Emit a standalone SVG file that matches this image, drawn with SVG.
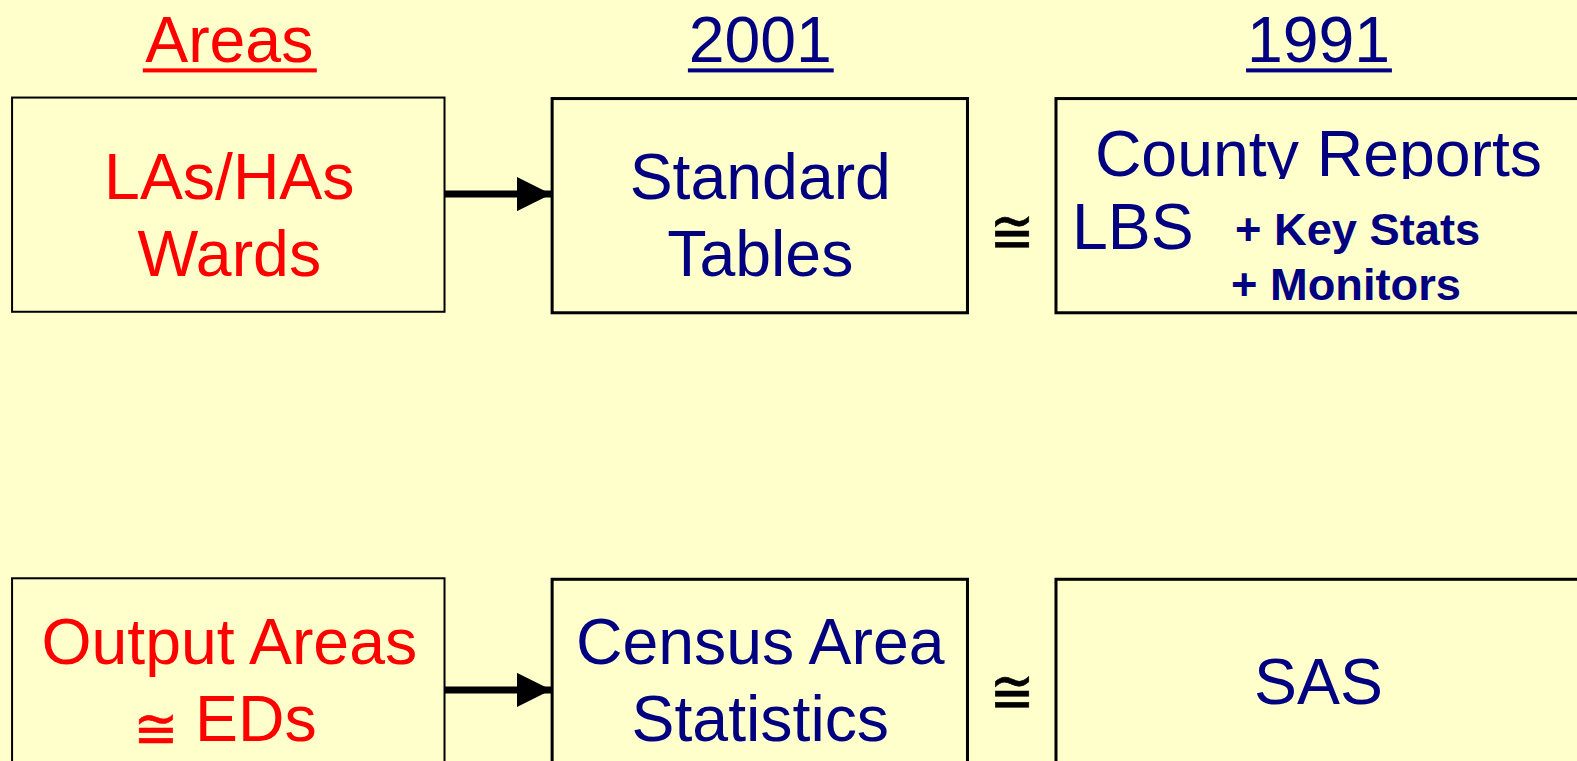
<svg xmlns="http://www.w3.org/2000/svg" width="1577" height="761" viewBox="0 0 1577 761">
<style>
.t{font-family:"Liberation Sans",Arial,sans-serif;font-size:64px;text-anchor:middle}
.red{fill:#FF0000}
.navy{fill:#000080}
.b{font-weight:bold;font-size:45px;text-anchor:start}
.box{fill:#FFFFCC;stroke:#000;stroke-width:3}
.thin{stroke-width:2}
.cong{font-family:"DejaVu Sans",sans-serif;font-size:51px;text-anchor:middle;fill:#000;stroke:#000;stroke-width:0.5}
</style>
<defs>
<marker id="ah" markerWidth="34" markerHeight="34" viewBox="0 0 34 34" refX="34" refY="17" markerUnits="userSpaceOnUse" orient="auto">
<path d="M0,0 L34,17 L0,34 Z" fill="#000"/>
</marker>
<clipPath id="cr"><rect x="1050" y="98" width="527" height="80"/></clipPath>
</defs>
<rect width="1577" height="761" fill="#FFFFCC"/>
<g transform="scale(1.0057)">
<g id="headers">
<text class="t red" x="228" y="62">Areas</text>
<rect x="142" y="68" width="173" height="4" fill="#FF0000"/>
<text class="t navy" x="756" y="62">2001</text>
<rect x="684" y="68" width="145" height="4" fill="#000080"/>
<text class="t navy" x="1311" y="62">1991</text>
<rect x="1239" y="68" width="145" height="4" fill="#000080"/>
</g>
<g id="connectors">
<line x1="437" y1="193" x2="548" y2="193" stroke="#000" stroke-width="7" marker-end="url(#ah)"/>
<line x1="437" y1="686" x2="548" y2="686" stroke="#000" stroke-width="7" marker-end="url(#ah)"/>
</g>
<g id="n-las">
<rect class="box thin" x="12" y="97" width="430" height="213"/>
<text class="t red" x="228" y="198">LAs/HAs</text>
<text class="t red" x="228" y="274">Wards</text>
</g>
<g id="n-standard">
<rect class="box" x="549" y="98" width="413" height="213"/>
<text class="t navy" x="756" y="198">Standard</text>
<text class="t navy" x="756" y="274">Tables</text>
</g>
<g id="n-county">
<rect class="box" x="1050" y="98" width="540" height="213"/>
<text class="t navy" x="1311" y="175" clip-path="url(#cr)">County Reports</text>
<text class="t navy" x="1066" y="248" style="text-anchor:start">LBS</text>
<text class="t navy b" x="1228" y="244">+ Key Stats</text>
<text class="t navy b" x="1224" y="298">+ Monitors</text>
</g>
<g id="n-oa">
<rect class="box thin" x="12" y="575" width="430" height="200"/>
<text class="t red" x="228" y="660">Output Areas</text>
<text class="t red" x="194" y="737" style="text-anchor:start">EDs</text>
</g>
<g id="n-cas">
<rect class="box" x="549" y="576" width="413" height="200"/>
<text class="t navy" x="756" y="660">Census Area</text>
<text class="t navy" x="756" y="737">Statistics</text>
</g>
<g id="n-sas">
<rect class="box" x="1050" y="576" width="540" height="200"/>
<text class="t navy" x="1311" y="700">SAS</text>
</g>
</g>
<g id="cong1" transform="translate(1012,231) scale(1.05,1.2)"><text class="cong" x="0" y="18">≅</text></g>
<g id="cong2" transform="translate(1012,691) scale(1.05,1.2)"><text class="cong" x="0" y="18">≅</text></g>
<g id="cong3" transform="translate(156,728) scale(1.05,1.1)"><text class="cong" x="0" y="18" style="fill:#FF0000;stroke:#FF0000">≅</text></g>
</svg>
